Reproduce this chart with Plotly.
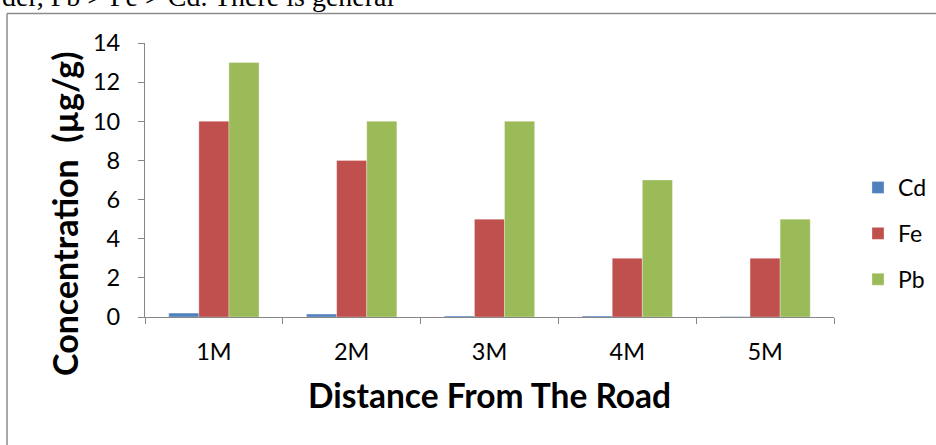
import plotly.graph_objects as go

# Metal concentration by distance from the road
distances = ["1M", "2M", "3M", "4M", "5M"]
cd_values = [0.2, 0.15, 0.05, 0.05, 0.02]
fe_values = [10, 8, 5, 3, 3]
pb_values = [13, 10, 10, 7, 5]
y_ticks = [0, 2, 4, 6, 8, 10, 12, 14]

series = [
    ("Cd", cd_values, "#4F81BD"),
    ("Fe", fe_values, "#C0504D"),
    ("Pb", pb_values, "#9BBB59"),
]

W, H = 936, 445
L, R, T, B = 145, 102, 43, 128
pw, ph = W - L - R, H - T - B


def px_x(x):
    return (x - L) / pw


def px_y(y):
    return (H - B - y) / ph


fig = go.Figure()
for name, vals, color in series:
    fig.add_trace(go.Bar(
        x=distances, y=vals, name=name, legendgroup=name,
        marker=dict(color=color, line=dict(color="rgba(255,255,255,0.6)", width=0.5)),
    ))

axis_grey = "#868686"
tick_font = dict(family="Lato", size=23.5, color="black")

fig.update_layout(
    width=W, height=H,
    margin=dict(l=L, r=R, t=T, b=B, pad=0, autoexpand=False),
    paper_bgcolor="white", plot_bgcolor="white",
    barmode="group", bargap=0.345, bargroupgap=0,
    showlegend=True,
    legend=dict(
        x=px_x(858), y=px_y(166), xanchor="left", yanchor="top",
        font=dict(family="Lato", size=23, color="black"),
        tracegroupgap=13, traceorder="grouped",
        bgcolor="rgba(0,0,0,0)",
    ),
    xaxis=dict(
        showline=True, linecolor=axis_grey, linewidth=1.3,
        ticks="outside", ticklen=6, tickcolor=axis_grey, tickwidth=1.3,
        tickson="boundaries", showgrid=False, zeroline=False,
        tickfont=tick_font, ticklabelstandoff=14,
    ),
    yaxis=dict(
        range=[0, 14], tickvals=y_ticks,
        showline=True, linecolor=axis_grey, linewidth=1.3,
        ticks="outside", ticklen=6, tickcolor=axis_grey, tickwidth=1.3,
        showgrid=False, zeroline=False,
        tickfont=tick_font, ticklabelstandoff=13,
    ),
    shapes=[
        dict(type="line", xref="paper", yref="paper",
             x0=px_x(7), x1=px_x(940), y0=px_y(13.5), y1=px_y(13.5),
             line=dict(color="#8c8c8c", width=1.5)),
        dict(type="line", xref="paper", yref="paper",
             x0=px_x(7), x1=px_x(7), y0=px_y(13.5), y1=px_y(450),
             line=dict(color="#8c8c8c", width=1.5)),
    ],
    annotations=[
        dict(text="der, Pb > Fe > Cd. There is general", xref="paper", yref="paper",
             x=px_x(0), y=px_y(14), xanchor="left", yanchor="bottom", showarrow=False,
             font=dict(family="Liberation Serif", size=28, color="black")),
        dict(text="<b>Distance From The Road</b>", xref="paper", yref="paper",
             x=0.5, y=px_y(395), xanchor="center", yanchor="middle", showarrow=False,
             font=dict(family="Lato", size=33.5, color="black")),
        dict(text="<b>Concentration  (µg/g)</b>", xref="paper", yref="paper",
             x=px_x(64), y=px_y(214), xanchor="center", yanchor="middle", showarrow=False,
             textangle=-90,
             font=dict(family="Lato", size=34, color="black")),
    ],
)

fig.write_html("out.html")
